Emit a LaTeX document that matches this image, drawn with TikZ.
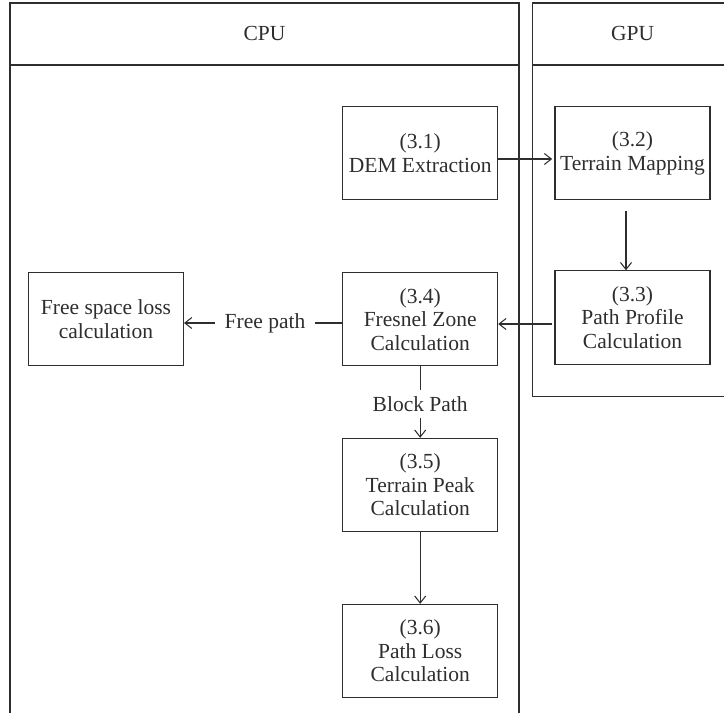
\documentclass[tikz,border=0pt]{standalone}
\usepackage{fontspec}
\setmainfont{Liberation Serif}
\usetikzlibrary{arrows.meta}
\definecolor{ink}{HTML}{2E2E2E}
\begin{document}
\begin{tikzpicture}[x=1pt,y=-1pt,color=ink,
  txt/.style={font=\fontsize{21.5}{23.5}\selectfont},
  lane/.style={line width=1.25pt},
  proc/.style={txt, draw, line width=1.05pt, minimum width=155pt, minimum height=93.3pt,
    align=center, inner sep=0pt},
  lbl/.style={txt, inner xsep=10pt, inner ysep=0pt},
  flow/.style={line width=1.05pt, -{Straight Barb[length=7pt,width=11pt,line width=1.05pt]}},
  link/.style={line width=1.05pt}]
\useasboundingbox (0,0) rectangle (724,713);
\clip (0,0) rectangle (724,713);

% CPU swimlane (runs off the bottom edge)
\draw[lane] (10,720) -- (10,3) -- (519,3) -- (519,720);
\draw[lane] (10,65) -- (519,65);
\node[txt] (cpu) at (264.5,33) {CPU};

% GPU swimlane (runs off the right edge)
\draw[lane] (740,396.7) -- (532.7,396.7) -- (532.7,3) -- (740,3);
\draw[lane] (532.7,65) -- (740,65);
\node[txt] (gpu) at (632.7,33) {GPU};

% processing steps
\node[proc] (dem)  at (420.2,153.3) {(3.1)\\DEM Extraction};
\node[proc] (map)  at (632.5,153.3) {(3.2)\\Terrain Mapping};
\node[proc] (prof) at (632.5,317.5) {(3.3)\\Path Profile\\Calculation};
\node[proc] (fres) at (420.2,319.3) {(3.4)\\Fresnel Zone\\Calculation};
\node[proc] (fsl)  at (106,319.3)   {Free space loss\\calculation};
\node[proc] (peak) at (420.2,485)   {(3.5)\\Terrain Peak\\Calculation};
\node[proc] (loss) at (420.2,651)   {(3.6)\\Path Loss\\Calculation};

% branch labels
\node[lbl] (free)  at (265,323) {Free path};
\node[lbl, minimum height=28pt] (block) at (420.2,404) {Block Path};

% connectors
\draw[flow] ([yshift=-5.7pt]dem.east) -- ([xshift=-2.3pt,yshift=-5.7pt]map.west);
\draw[flow] ([xshift=-6.5pt,yshift=-10.7pt]map.south) -- ([xshift=-6.5pt]prof.north);
\draw[flow] ([xshift=-2.3pt,yshift=-6.5pt]prof.west) -- ([yshift=-4.7pt]fres.east);
\draw[link] (fres.west |- free) -- (free);
\draw[flow] (free) -- (fsl.east |- free);
\draw[link] (fres.south) -- (block);
\draw[flow] (block) -- (peak);
\draw[flow] (peak) -- (loss);
\end{tikzpicture}
\end{document}
